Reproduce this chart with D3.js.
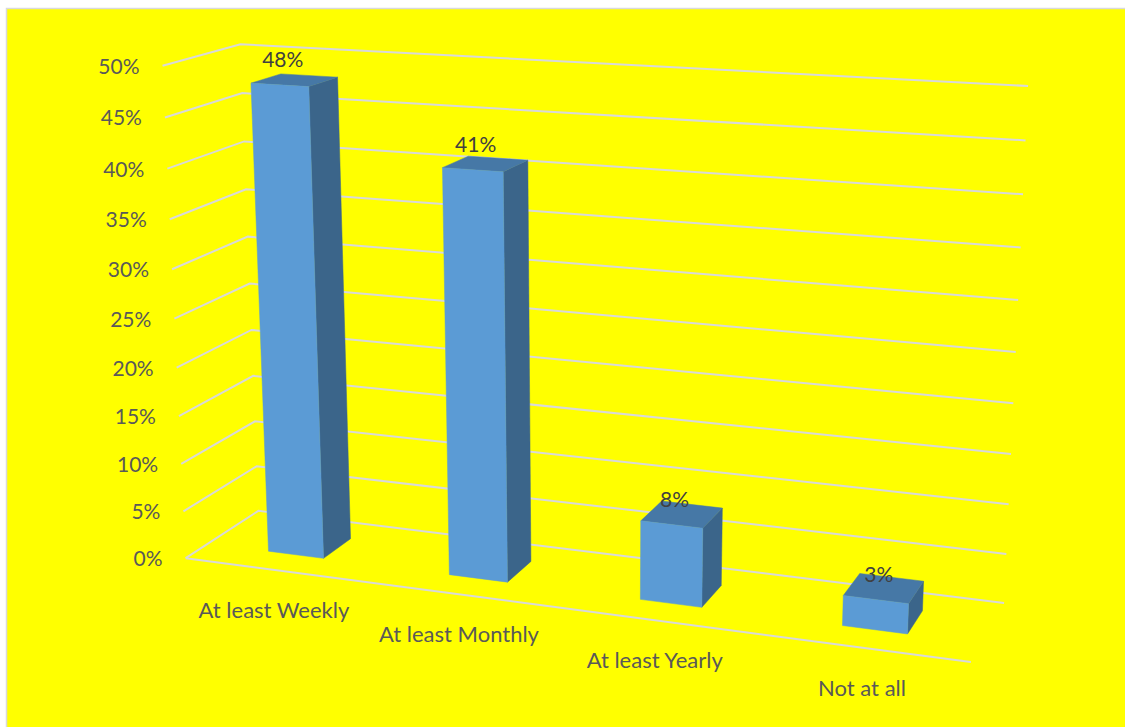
<!DOCTYPE html>
<html>
<head>
<meta charset="utf-8">
<script src="https://cdn.jsdelivr.net/npm/d3@7"></script>
<style>
  html, body { margin: 0; padding: 0; background: #fff; }
  text { font-family: Lato, "Open Sans", sans-serif; }
</style>
</head>
<body>
<div id="plot"></div>
<script>
// Chart data
var categories = ["At least Weekly", "At least Monthly", "At least Yearly", "Not at all"];
var values = [48, 41, 8, 3];
var tickValues = [0, 5, 10, 15, 20, 25, 30, 35, 40, 45, 50];

var width = 1125, height = 727;

// Box corners as seen in the picture: [across, value 0-1, depth, screenX, screenY]
var boxCorners = [
    [0, 0, 0, 186, 558], [0, 1, 0, 162, 66],
    [0, 0, 1, 258, 511], [0, 1, 1, 241, 44],
    [1, 0, 1, 1004, 603], [1, 1, 1, 1028, 86],
    [1, 0, 0, 971, 662]
];

// Least squares fit of a 3D to 2D camera matrix
function fitCamera(pts) {
    var N = [], n = 11;
    for (var i = 0; i < n; i++) N.push(new Array(n + 1).fill(0));
    function addRow(row, rhs) {
        for (var a = 0; a < n; a++) {
            for (var b = 0; b < n; b++) N[a][b] += row[a] * row[b];
            N[a][n] += row[a] * rhs;
        }
    }
    pts.forEach(function (p) {
        var X = p[0], Y = p[1], Z = p[2], x = p[3], y = p[4];
        addRow([X, Y, Z, 1, 0, 0, 0, 0, -x * X, -x * Y, -x * Z], x);
        addRow([0, 0, 0, 0, X, Y, Z, 1, -y * X, -y * Y, -y * Z], y);
    });
    for (var c = 0; c < n; c++) {
        var best = c;
        for (var r = c + 1; r < n; r++) if (Math.abs(N[r][c]) > Math.abs(N[best][c])) best = r;
        var tmp = N[c]; N[c] = N[best]; N[best] = tmp;
        for (var r2 = 0; r2 < n; r2++) {
            if (r2 === c) continue;
            var f = N[r2][c] / N[c][c];
            for (var k = c; k <= n; k++) N[r2][k] -= f * N[c][k];
        }
    }
    return N.map(function (row, i) { return row[n] / row[i]; });
}

var cam = fitCamera(boxCorners);

// Scales
var y = d3.scaleLinear().domain([0, 50]).range([0, 1]);
var x = d3.scaleBand().domain(categories).range([0, 1]).paddingInner(0.69).paddingOuter(0.345);
var depthFront = 0.3, depthBack = 0.7;

// across, percent value, depth -> screen point
function project(u, v, w) {
    var Y = y(v);
    var d = cam[8] * u + cam[9] * Y + cam[10] * w + 1;
    return [(cam[0] * u + cam[1] * Y + cam[2] * w + cam[3]) / d,
            (cam[4] * u + cam[5] * Y + cam[6] * w + cam[7]) / d];
}

var line = d3.line();

var svg = d3.select("#plot")
    .append("svg")
    .attr("width", width)
    .attr("height", height)
    .style("display", "block");

// Yellow chart area with the thin grey frame
svg.append("rect")
    .attr("x", 6.5).attr("y", 8.5)
    .attr("width", width + 10).attr("height", height + 10)
    .attr("fill", "#ffff00")
    .attr("stroke", "#d9d9d9")
    .attr("stroke-width", 1.5);

// Gridlines: side wall then back wall
svg.append("g")
    .selectAll("path")
    .data(tickValues)
    .enter()
    .append("path")
    .attr("d", function (t) { return line([project(0, t, 0), project(0, t, 1), project(1, t, 1)]); })
    .attr("fill", "none")
    .attr("stroke", "#d9d9d9")
    .attr("stroke-width", 2);

// Front edge of the floor
svg.append("path")
    .attr("d", line([project(0, 0, 0), project(1, 0, 0)]))
    .attr("fill", "none")
    .attr("stroke", "#d9d9d9")
    .attr("stroke-width", 2);

// Value axis labels
svg.append("g")
    .selectAll("text")
    .data(tickValues)
    .enter()
    .append("text")
    .attr("x", function (t) { return project(0, t, 0)[0] - 23; })
    .attr("y", function (t) { return project(0, t, 0)[1] + 8; })
    .attr("text-anchor", "end")
    .attr("font-size", 21)
    .attr("fill", "#595959")
    .text(function (t) { return t + "%"; });

// Category labels
svg.append("g")
    .selectAll("text")
    .data(categories)
    .enter()
    .append("text")
    .attr("x", function (c) { return project(x(c) + x.bandwidth() / 2, 0, 0)[0] - 0.5; })
    .attr("y", function (c) { return project(x(c) + x.bandwidth() / 2, 0, 0)[1] + 48; })
    .attr("text-anchor", "middle")
    .attr("font-size", 22)
    .attr("fill", "#595959")
    .text(function (c) { return c; });

// Bars, each one a front, side and top face
var bars = svg.append("g")
    .selectAll("g")
    .data(categories)
    .enter()
    .append("g");

function face(color, corners) {
    bars.append("path")
        .attr("d", function (c, i) {
            var l = x(c), r = x(c) + x.bandwidth();
            return line(corners(l, r, values[i]).map(function (p) { return project(p[0], p[1], p[2]); })) + "Z";
        })
        .attr("fill", color)
        .attr("stroke", color)
        .attr("stroke-width", 0.5);
}

face("#3b658a", function (l, r, v) {
    return [[r, 0, depthFront], [r, 0, depthBack], [r, v, depthBack], [r, v, depthFront]];
});
face("#4678a6", function (l, r, v) {
    return [[l, v, depthFront], [l, v, depthBack], [r, v, depthBack], [r, v, depthFront]];
});
face("#5b9bd5", function (l, r, v) {
    return [[l, 0, depthFront], [r, 0, depthFront], [r, v, depthFront], [l, v, depthFront]];
});

// Value labels
svg.append("g")
    .selectAll("text")
    .data(categories)
    .enter()
    .append("text")
    .attr("x", function (c, i) { return project(x(c) + x.bandwidth() / 2, values[i], depthFront)[0] + 3; })
    .attr("y", function (c, i) { return project(x(c) + x.bandwidth() / 2, values[i], depthFront)[1] - 18; })
    .attr("text-anchor", "middle")
    .attr("font-size", 21)
    .attr("fill", "#404040")
    .text(function (c, i) { return values[i] + "%"; });
</script>
</body>
</html>
